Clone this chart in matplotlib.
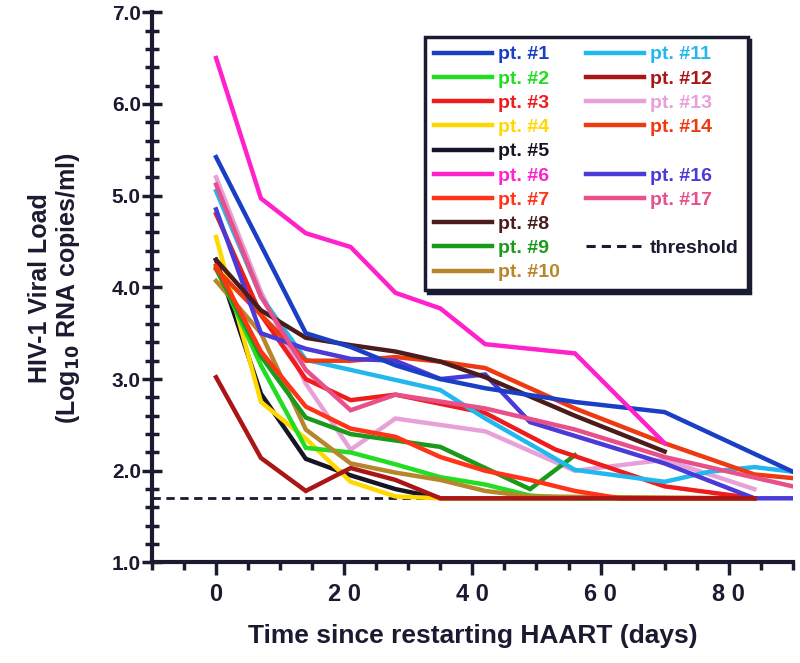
import matplotlib
matplotlib.use("Agg")
from matplotlib import pyplot as plt
from matplotlib.lines import Line2D
from matplotlib.ticker import MultipleLocator, FormatStrFormatter

plt.rcParams["font.family"] = ["Liberation Sans", "DejaVu Sans"]

# days since restarting HAART and log10 viral load
days_1 = [0, 14, 21, 28, 35, 42, 56, 70, 90]
load_1 = [5.42, 3.50, 3.35, 3.15, 3.00, 2.90, 2.75, 2.64, 1.99]

days_2 = [0, 7, 14, 21, 28, 35, 42, 49, 56, 84]
load_2 = [4.22, 3.15, 2.25, 2.20, 2.07, 1.93, 1.85, 1.73, 1.70, 1.70]

days_3 = [0, 7, 14, 21, 28, 42, 53, 70, 84]
load_3 = [4.80, 3.70, 3.00, 2.77, 2.83, 2.63, 2.23, 1.83, 1.70]

days_4 = [0, 7, 14, 21, 28, 35, 84]
load_4 = [4.55, 2.75, 2.35, 1.88, 1.72, 1.70, 1.70]

days_5 = [0, 7, 14, 21, 28, 35, 84]
load_5 = [4.30, 2.84, 2.13, 1.95, 1.80, 1.70, 1.70]

days_6 = [0, 7, 14, 21, 28, 35, 42, 56, 70]
load_6 = [6.50, 4.97, 4.59, 4.44, 3.94, 3.77, 3.38, 3.28, 2.30]

days_7 = [0, 7, 14, 21, 28, 35, 42, 49, 56, 63, 84]
load_7 = [4.24, 3.30, 2.70, 2.46, 2.37, 2.15, 2.00, 1.90, 1.78, 1.70, 1.70]

days_8 = [0, 7, 14, 21, 28, 35, 42, 56, 70]
load_8 = [4.30, 3.75, 3.45, 3.37, 3.30, 3.19, 3.02, 2.60, 2.21]

days_9 = [0, 7, 14, 21, 28, 35, 42, 49, 56]
load_9 = [4.20, 3.25, 2.58, 2.40, 2.33, 2.26, 2.03, 1.80, 2.17]

days_10 = [0, 7, 14, 21, 28, 35, 42, 49, 84]
load_10 = [4.07, 3.50, 2.45, 2.08, 1.98, 1.90, 1.78, 1.72, 1.70]

days_11 = [0, 7, 14, 21, 28, 35, 42, 56, 70, 77, 84, 90]
load_11 = [5.05, 3.90, 3.21, 3.10, 2.99, 2.88, 2.57, 2.01, 1.88, 1.99, 2.04, 1.99]

days_12 = [0, 7, 14, 21, 28, 35, 84]
load_12 = [3.02, 2.14, 1.78, 2.03, 1.90, 1.70, 1.70]

days_13 = [0, 7, 14, 21, 28, 42, 56, 70, 84]
load_13 = [5.20, 3.95, 2.95, 2.23, 2.57, 2.43, 2.00, 2.12, 1.80]

days_14 = [0, 7, 14, 21, 28, 35, 42, 56, 70, 84, 90]
load_14 = [4.20, 3.70, 3.20, 3.20, 3.24, 3.19, 3.12, 2.68, 2.30, 1.96, 1.92]

days_16 = [0, 7, 14, 21, 28, 35, 42, 49, 70, 84, 90]
load_16 = [4.85, 3.50, 3.33, 3.22, 3.20, 3.00, 3.05, 2.53, 2.08, 1.70, 1.70]

days_17 = [0, 7, 14, 21, 28, 42, 56, 70, 90]
load_17 = [5.12, 3.90, 3.10, 2.66, 2.83, 2.68, 2.45, 2.15, 1.83]

threshold = 1.70

patients = ["pt. #1", "pt. #2", "pt. #3", "pt. #4", "pt. #5", "pt. #6",
            "pt. #7", "pt. #8", "pt. #9", "pt. #10", "pt. #11", "pt. #12",
            "pt. #13", "pt. #14", "pt. #16", "pt. #17"]
colors = ["#1a3fc4", "#22dd22", "#ee1c1c", "#ffd800", "#151525", "#ff22cc",
          "#ff3318", "#4a1c1c", "#1a9a1a", "#b8862a", "#22b8ee", "#aa1515",
          "#e8a0d8", "#ee3a10", "#4a3ad8", "#e8508a"]
all_days = [days_1, days_2, days_3, days_4, days_5, days_6, days_7, days_8,
            days_9, days_10, days_11, days_12, days_13, days_14, days_16, days_17]
all_loads = [load_1, load_2, load_3, load_4, load_5, load_6, load_7, load_8,
             load_9, load_10, load_11, load_12, load_13, load_14, load_16, load_17]

ink = "#1a1a30"

fig = plt.figure(figsize=(8, 6.63), dpi=100)
ax = fig.add_axes([0.19, 0.1516, 0.801, 0.830])

ax.axhline(threshold, color=ink, lw=2, ls=(0, (3, 2)), zorder=1)

# draw back to front so the lower numbers sit on top like the original
order = [12, 4, 3, 1, 9, 8, 2, 6, 10, 13, 14, 7, 11, 0, 15, 5]
handles = {}
for i in order:
    ax.plot(all_days[i], all_loads[i], color=colors[i], lw=3.2,
            solid_joinstyle="miter", zorder=2)
for i in range(len(patients)):
    handles[patients[i]] = Line2D([], [], color=colors[i], lw=3.2)

ax.set_xlim(-10, 90)
ax.set_ylim(1, 7)
for s in ["top", "right"]:
    ax.spines[s].set_visible(False)
for s in ["left", "bottom"]:
    ax.spines[s].set_linewidth(3)
    ax.spines[s].set_color(ink)

ax.xaxis.set_minor_locator(MultipleLocator(5))
ax.set_xticks([0, 20, 40, 60, 80])
ax.set_xticklabels(["0", "2 0", "4 0", "6 0", "8 0"])
ax.yaxis.set_major_locator(MultipleLocator(1))
ax.yaxis.set_minor_locator(MultipleLocator(0.2))
ax.yaxis.set_major_formatter(FormatStrFormatter("%.1f"))
ax.tick_params(axis="x", which="major", direction="out", length=9, width=2.5,
               color=ink, labelsize=17, pad=6)
ax.tick_params(axis="x", which="minor", direction="out", length=6, width=2.5, color=ink)
ax.tick_params(axis="y", which="major", direction="inout", length=14, width=2.5,
               color=ink, labelsize=15, pad=1)
ax.tick_params(axis="y", which="minor", direction="inout", length=10, width=2.5, color=ink)
for lab in ax.get_xticklabels() + ax.get_yticklabels():
    lab.set_fontweight("bold")
    lab.set_color(ink)

ax.set_xlabel("Time since restarting HAART (days)", fontsize=19, fontweight="bold",
              color=ink, labelpad=13)
fig.text(0.05, 0.565, "HIV-1 Viral Load", rotation=90, ha="center", va="center",
         fontsize=18, fontweight="bold", color=ink)
fig.text(0.085, 0.565, r"(Log$_{\mathbf{10}}$ RNA copies/ml)", rotation=90,
         ha="center", va="center", fontsize=18, fontweight="bold", color=ink)

# legend: 10 rows x 2 columns, with gaps where pt. #15 and others would be
blank = Line2D([], [], linestyle="none")
thr = Line2D([], [], color=ink, lw=2.2, ls=(0, (3, 2)))
col1 = ["pt. #1", "pt. #2", "pt. #3", "pt. #4", "pt. #5", "pt. #6",
        "pt. #7", "pt. #8", "pt. #9", "pt. #10"]
col2 = ["pt. #11", "pt. #12", "pt. #13", "pt. #14", "", "pt. #16",
        "pt. #17", "", "threshold", ""]
leg_h = [handles[n] for n in col1]
leg_l = list(col1)
for n in col2:
    if n == "":
        leg_h.append(blank)
    elif n == "threshold":
        leg_h.append(thr)
    else:
        leg_h.append(handles[n])
    leg_l.append(n)
leg = ax.legend(leg_h, leg_l, ncol=2, loc="upper left",
                bbox_to_anchor=(0.531, 0.944), bbox_transform=fig.transFigure,
                borderaxespad=0, handlelength=3.0, handletextpad=0.3,
                columnspacing=1.35, labelspacing=0.34, borderpad=0.45,
                frameon=True, fancybox=False, shadow={"color": ink, "alpha": 1},
                prop={"weight": "bold", "size": 14})
leg.get_frame().set_edgecolor(ink)
leg.get_frame().set_linewidth(2.5)
for txt, lab in zip(leg.get_texts(), leg_l):
    if lab in patients:
        txt.set_color(colors[patients.index(lab)])
    else:
        txt.set_color(ink)

fig.savefig("out.png", dpi=100)
